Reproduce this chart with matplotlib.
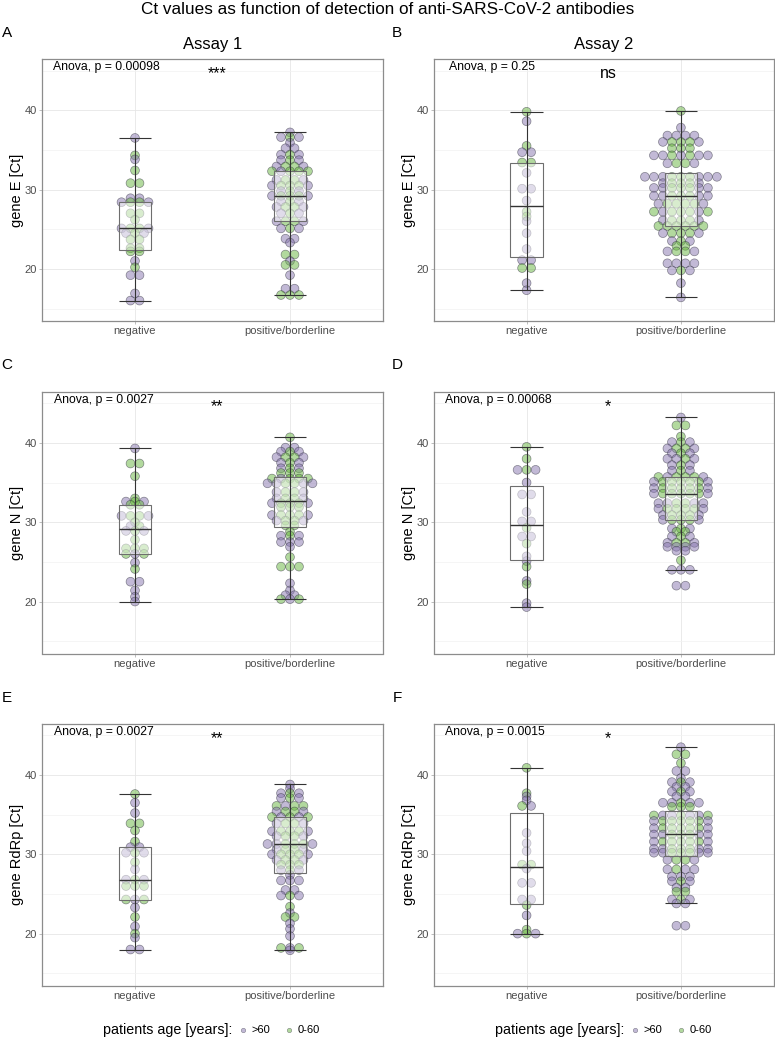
import matplotlib.pyplot as plt
import numpy as np
from matplotlib import cbook
from matplotlib.colors import to_rgba
from matplotlib.lines import Line2D

plt.rcParams["font.family"] = ["Liberation Sans", "DejaVu Sans"]

TITLE = "Ct values as function of detection of anti-SARS-CoV-2 antibodies"
ASSAYS = ["Assay 1", "Assay 2"]
GROUPS = ["negative", "positive/borderline"]
LETTERS = ["A", "B", "C", "D", "E", "F"]
GENES = ["gene E [Ct]", "gene E [Ct]", "gene N [Ct]", "gene N [Ct]",
         "gene RdRp [Ct]", "gene RdRp [Ct]"]
ANOVA_P = ["0.00098", "0.25", "0.0027", "0.00068", "0.0027", "0.0015"]
SIGNIF = ["***", "ns", "**", "*", "**", "*"]
AGE_LABELS = [">60", "0-60"]

# dotplot rows: (Ct, age group of each dot left to right)
# p = >60 years, g = 0-60 years
A_NEG = [
    (36.5, "p"), (34.3, "g"), (33.8, "p"), (32.4, "g"), (30.8, "gg"), (28.9, "pp"),
    (28.4, "pggp"), (27.0, "gg"), (26.2, "g"), (25.1, "pggp"), (24.5, "pgp"),
    (23.7, "gg"), (22.6, "gg"), (22.2, "gg"), (21.0, "p"), (20.2, "g"), (19.2, "pp"),
    (16.9, "p"), (16.0, "pp"),
]
A_POS = [
    (37.2, "p"), (36.6, "pgp"), (35.9, "p"), (35.2, "pp"), (34.4, "pgp"), (33.7, "pgp"),
    (32.9, "pggp"), (32.3, "gpggg"), (31.2, "pggp"), (30.5, "pgggp"), (29.8, "pgp"),
    (29.2, "pgggp"), (28.5, "pgp"), (27.8, "pggp"), (27.0, "pgp"), (26.0, "pggp"),
    (25.1, "pgp"), (23.8, "pp"), (23.3, "p"), (21.8, "gg"), (21.0, "p"), (20.5, "gg"),
    (19.2, "p"), (17.5, "pp"), (16.7, "ggg"),
]
B_NEG = [
    (39.8, "g"), (38.6, "p"), (35.5, "g"), (34.7, "pp"), (33.4, "gg"), (32.1, "p"),
    (30.1, "pp"), (28.6, "p"), (27.2, "g"), (26.6, "g"), (26.0, "p"), (24.5, "p"),
    (22.5, "p"), (21.1, "pp"), (20.1, "gg"), (18.2, "p"), (17.3, "p"),
]
B_POS = [
    (39.9, "g"), (37.8, "p"), (36.8, "pppp"), (36.0, "pgggp"), (35.2, "ggg"),
    (34.3, "ppgpgpp"), (33.3, "pggp"), (31.6, "pppgggppp"), (30.8, "pgggp"),
    (30.2, "ppgggpp"), (29.2, "ppgggpp"), (28.2, "pggggp"), (27.2, "gpgggpg"),
    (26.1, "pgggp"), (25.4, "gggggg"), (24.5, "pgggp"), (23.5, "pgp"), (22.9, "gg"),
    (22.2, "pggp"), (20.7, "pppp"), (19.8, "pgp"), (18.2, "p"), (16.4, "p"),
]
C_NEG = [
    (39.3, "p"), (37.4, "gg"), (35.8, "g"), (33.0, "g"), (32.6, "pgp"), (32.2, "gg"),
    (30.8, "pggp"), (30.0, "g"), (29.5, "pg"), (28.9, "pgp"), (27.8, "g"), (26.7, "ggg"),
    (26.0, "gpg"), (24.9, "p"), (24.1, "g"), (22.5, "pp"), (21.4, "p"), (20.6, "p"),
    (20.0, "p"),
]
C_POS = [
    (40.7, "g"), (39.4, "pp"), (38.9, "pgp"), (38.2, "pggp"), (37.5, "pgp"), (36.8, "pgp"),
    (36.2, "ggg"), (35.5, "gpggg"), (34.9, "ppggpp"), (33.8, "pggp"), (33.0, "pggp"),
    (32.4, "pgggp"), (31.9, "ggg"), (30.9, "pgggp"), (30.2, "pggp"), (29.6, "gg"),
    (28.8, "g"), (28.3, "pgp"), (27.5, "ppp"), (26.9, "p"), (25.6, "g"), (24.4, "ggg"),
    (22.3, "p"), (21.4, "p"), (20.8, "pp"), (20.3, "gpg"),
]
D_NEG = [
    (39.5, "g"), (38.0, "g"), (36.6, "pgp"), (35.0, "p"), (33.5, "pp"), (31.3, "p"),
    (30.1, "pp"), (29.3, "g"), (28.2, "pp"), (27.3, "g"), (25.7, "p"), (25.1, "p"),
    (24.4, "g"), (22.6, "p"), (22.2, "g"), (19.8, "p"), (19.3, "p"),
]
D_POS = [
    (43.2, "p"), (42.2, "gg"), (40.8, "g"), (40.1, "pgp"), (39.3, "pggp"), (38.7, "pgp"),
    (38.0, "ppgp"), (37.2, "pgp"), (36.5, "pgp"), (35.7, "gpgggp"), (35.1, "pgggggp"),
    (34.3, "pgggggp"), (33.6, "pgggggp"), (32.4, "ppggpp"), (31.7, "pggggp"),
    (30.9, "pgggp"), (30.3, "pgggp"), (29.2, "pgp"), (28.8, "gg"), (28.2, "pgp"),
    (27.4, "pggp"), (26.9, "pppp"), (26.4, "pp"), (25.2, "g"), (24.0, "ppp"), (22.0, "pp"),
]
E_NEG = [
    (37.6, "g"), (36.5, "p"), (35.2, "p"), (33.9, "gg"), (33.0, "g"), (31.6, "g"),
    (30.9, "pp"), (30.2, "pgp"), (29.0, "g"), (28.1, "p"), (26.8, "pgp"), (26.0, "ggg"),
    (24.3, "gpg"), (23.3, "p"), (22.1, "g"), (20.9, "p"), (20.0, "g"), (19.5, "p"),
    (18.0, "pp"),
]
E_POS = [
    (38.8, "p"), (38.3, "p"), (37.7, "pgp"), (37.1, "pgp"), (36.1, "gpgg"), (35.4, "pggp"),
    (34.7, "gpgpg"), (33.9, "pggp"), (32.9, "pgggp"), (32.3, "pggp"), (31.3, "ppgggp"),
    (30.6, "pggp"), (30.0, "pgggp"), (29.3, "pggp"), (28.7, "ggg"), (28.0, "pgp"),
    (27.4, "p"), (26.7, "ppp"), (25.5, "pp"), (24.8, "pgp"), (23.4, "g"), (22.6, "p"),
    (22.1, "gg"), (21.3, "p"), (20.6, "p"), (19.7, "p"), (18.2, "gpg"), (17.9, "p"),
]
F_NEG = [
    (40.9, "g"), (37.7, "g"), (37.3, "p"), (36.8, "p"), (36.1, "gp"), (32.7, "p"),
    (31.4, "p"), (30.4, "p"), (28.7, "gg"), (28.2, "p"), (26.4, "pp"), (24.3, "pp"),
    (23.6, "g"), (22.3, "p"), (20.5, "g"), (20.0, "pgp"),
]
F_POS = [
    (43.5, "p"), (42.6, "gg"), (41.5, "g"), (40.5, "pp"), (39.6, "p"), (39.1, "pgp"),
    (38.5, "pp"), (37.9, "pgp"), (37.3, "pp"), (36.5, "ppgpp"), (36.0, "ggg"),
    (34.9, "gppgppg"), (34.2, "pgggggp"), (33.3, "pgggggp"), (32.5, "ppgggpp"),
    (31.6, "pgggggp"), (30.7, "ppgggpp"), (30.2, "ppgggpp"), (29.3, "pggp"),
    (28.1, "pgpp"), (27.2, "ppp"), (26.6, "pgp"), (25.8, "pp"), (25.3, "gg"),
    (24.3, "pgp"), (23.8, "pp"), (21.0, "pp"),
]

DATA = [(A_NEG, A_POS), (B_NEG, B_POS), (C_NEG, C_POS),
        (D_NEG, D_POS), (E_NEG, E_POS), (F_NEG, F_POS)]

PURPLE = "#8674ae"
GREEN = "#66b53e"
AGE_COLORS = {"p": PURPLE, "g": GREEN}
DOT_ALPHA = 0.5
DOT_EDGE = (0.2, 0.2, 0.25, 0.55)

# layout in pixels
W, H = 775, 1041
COL_X = [42.0, 434.0]
COL_W = [341.0, 339.5]
ROW_TOP = [59.0, 391.7, 723.8]
AX_H = 261.8
XLIM = (0.4, 2.6)
YLIM = (13.45, 46.45)
DOT_PX = 9.0
BOX_W = 0.21
ANOVA_X = [0.032, 0.043, 0.035, 0.031, 0.035, 0.033]

fig = plt.figure(figsize=(W / 100, H / 100), dpi=100)
fig.text(0.5, 1 - 9 / H, TITLE, ha="center", va="center", fontsize=12.3)

for k in range(6):
    row, col = divmod(k, 2)
    x0, w = COL_X[col], COL_W[col]
    ax = fig.add_axes([x0 / W, 1 - (ROW_TOP[row] + AX_H) / H, w / W, AX_H / H])
    dx = DOT_PX / w * (XLIM[1] - XLIM[0])

    for xc, rows in enumerate(DATA[k], start=1):
        xs, ys, face = [], [], []
        for ct, codes in rows:
            n = len(codes)
            for i, a in enumerate(codes):
                xs.append(xc + (i - (n - 1) / 2) * dx)
                ys.append(ct)
                face.append(to_rgba(AGE_COLORS[a], DOT_ALPHA))
        ax.scatter(xs, ys, s=40, c=face, edgecolors=[DOT_EDGE],
                   linewidths=0.5, zorder=2)

        stats = cbook.boxplot_stats(np.array(ys), whis=1.5)[0]
        ax.bxp([stats], positions=[xc], widths=BOX_W, showfliers=False,
               showcaps=False, patch_artist=True, manage_ticks=False,
               boxprops=dict(facecolor=(1, 1, 1, 0.5), edgecolor="#6e6e6e",
                             linewidth=0.8),
               medianprops=dict(color="#333333", linewidth=1.0),
               whiskerprops=dict(linewidth=0), zorder=3)
        ax.vlines(xc, stats["whislo"], stats["whishi"], color="#333333",
                  lw=0.8, zorder=4)
        ax.hlines([stats["whislo"], stats["whishi"]], xc - BOX_W / 2,
                  xc + BOX_W / 2, color="#333333", lw=0.8, zorder=4)

    ax.set_xlim(*XLIM)
    ax.set_ylim(*YLIM)
    ax.set_xticks([1, 2], GROUPS)
    ax.set_yticks([20, 30, 40])
    ax.set_yticks([15, 25, 35, 45], minor=True)
    ax.tick_params(which="major", labelsize=8, labelcolor="#4d4d4d",
                   color="#b3b3b3", length=2, width=0.6, pad=1.8)
    ax.tick_params(which="minor", length=0)
    ax.grid(which="major", color="#e6e6e6", lw=0.6)
    ax.grid(which="minor", axis="y", color="#f2f2f2", lw=0.5)
    ax.set_axisbelow(True)
    for s in ax.spines.values():
        s.set_color("#8c8c8c")
        s.set_linewidth(0.9)

    ax.text(-25 / w, 0.5, GENES[k], transform=ax.transAxes, rotation=90,
            ha="center", va="center", fontsize=10.5)
    ax.text(ANOVA_X[k], 1 - 8 / AX_H, f"Anova, p = {ANOVA_P[k]}",
            transform=ax.transAxes, ha="left", va="center", fontsize=8.8)
    ax.text(1.53, 44.0, SIGNIF[k], ha="center", va="baseline", fontsize=11.5)
    if row == 0:
        ax.text(0.5, 1 + 14 / AX_H, ASSAYS[col], transform=ax.transAxes,
                ha="center", va="center", fontsize=12)
    fig.text([7, 397][col] / W, 1 - [33, 365, 698][row] / H, LETTERS[k],
             ha="center", va="center", fontsize=11)

# legends under each column
for shift in [0, 392]:
    y = 1 - 1030 / H
    fig.text((103 + shift) / W, y, "patients age [years]:", ha="left",
             va="center", fontsize=10.3)
    for mx, label, color in zip([243, 289], AGE_LABELS, [PURPLE, GREEN]):
        fig.add_artist(Line2D([(mx + shift) / W], [y], transform=fig.transFigure,
                              marker="o", markersize=3.2, linestyle="none",
                              markerfacecolor=to_rgba(color, DOT_ALPHA),
                              markeredgecolor=DOT_EDGE, markeredgewidth=0.4))
        fig.text((mx + 9 + shift) / W, y, label, ha="left", va="center",
                 fontsize=8)

fig.savefig("out.png", dpi=100)
